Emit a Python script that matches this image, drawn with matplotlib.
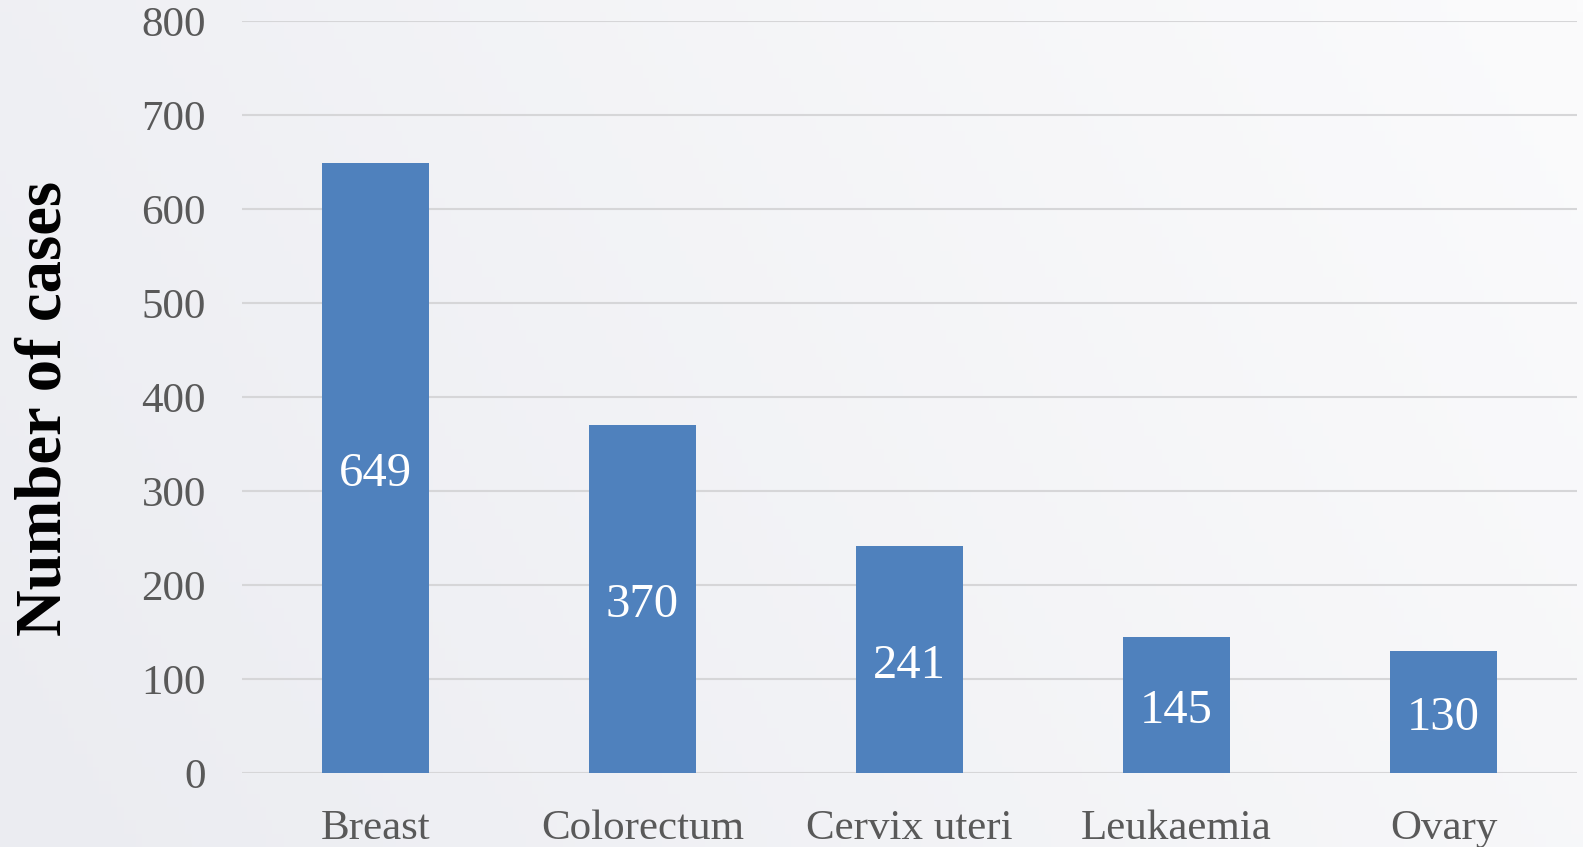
import matplotlib
matplotlib.use("Agg")
import matplotlib.pyplot as plt
import numpy as np

categories = ["Breast", "Colorectum", "Cervix uteri", "Leukaemia", "Ovary"]
cases = [649, 370, 241, 145, 130]
yticks = [0, 100, 200, 300, 400, 500, 600, 700, 800]

plt.rcParams['font.family'] = ['Liberation Serif', 'DejaVu Serif']

W, H, DPI = 1583, 847, 100
fig = plt.figure(figsize=(W / DPI, H / DPI), dpi=DPI)

# background gradient
bg = fig.add_axes([0, 0, 1, 1], zorder=-10)
grad = np.linspace(0, 1, 256)
gx, gy = np.meshgrid(grad, np.linspace(0, 1, 64))
t = np.clip(0.75 * gx + 0.25 * (1 - gy), 0, 1)
c0 = np.array([0xEB, 0xEC, 0xF1]) / 255
c1 = np.array([0xFB, 0xFB, 0xFC]) / 255
img = c0[None, None, :] * (1 - t[..., None]) + c1[None, None, :] * t[..., None]
bg.imshow(img, aspect='auto', extent=[0, 1, 0, 1], origin='upper')
bg.axis('off')

ax = fig.add_axes([242 / W, 1 - 773 / H, (1577 - 242) / W, (773 - 21) / H])
ax.patch.set_alpha(0)
x = np.arange(len(categories))
bars = ax.bar(x, cases, width=0.4, color='#4F81BD', zorder=3)
for xi, v in zip(x, cases):
    ax.annotate(str(v), xy=(xi, v / 2), xytext=(0, -4.5), textcoords='offset points',
                ha='center', va='center', color='white', fontsize=35, zorder=4)

ax.set_xlim(-0.5, len(categories) - 0.5)
ax.set_ylim(0, 800)
ax.set_yticks(yticks)
ax.set_yticklabels([str(v) for v in yticks])
ax.set_xticks(x)
ax.set_xticklabels(categories)
ax.yaxis.grid(True, color='#D6D6D8', linewidth=1.5, zorder=0)
ax.set_axisbelow(True)
for s in ax.spines.values():
    s.set_visible(False)
ax.tick_params(axis='both', length=0, labelsize=31, labelcolor='#595959')
ax.tick_params(axis='y', pad=26)
ax.tick_params(axis='x', pad=26)

fig.text(45 / W, 1 - 408 / H, "Number of cases", rotation=90, ha='center', va='center',
         fontsize=46.5, fontweight='bold', color='black')

fig.savefig("out.png", dpi=DPI)
